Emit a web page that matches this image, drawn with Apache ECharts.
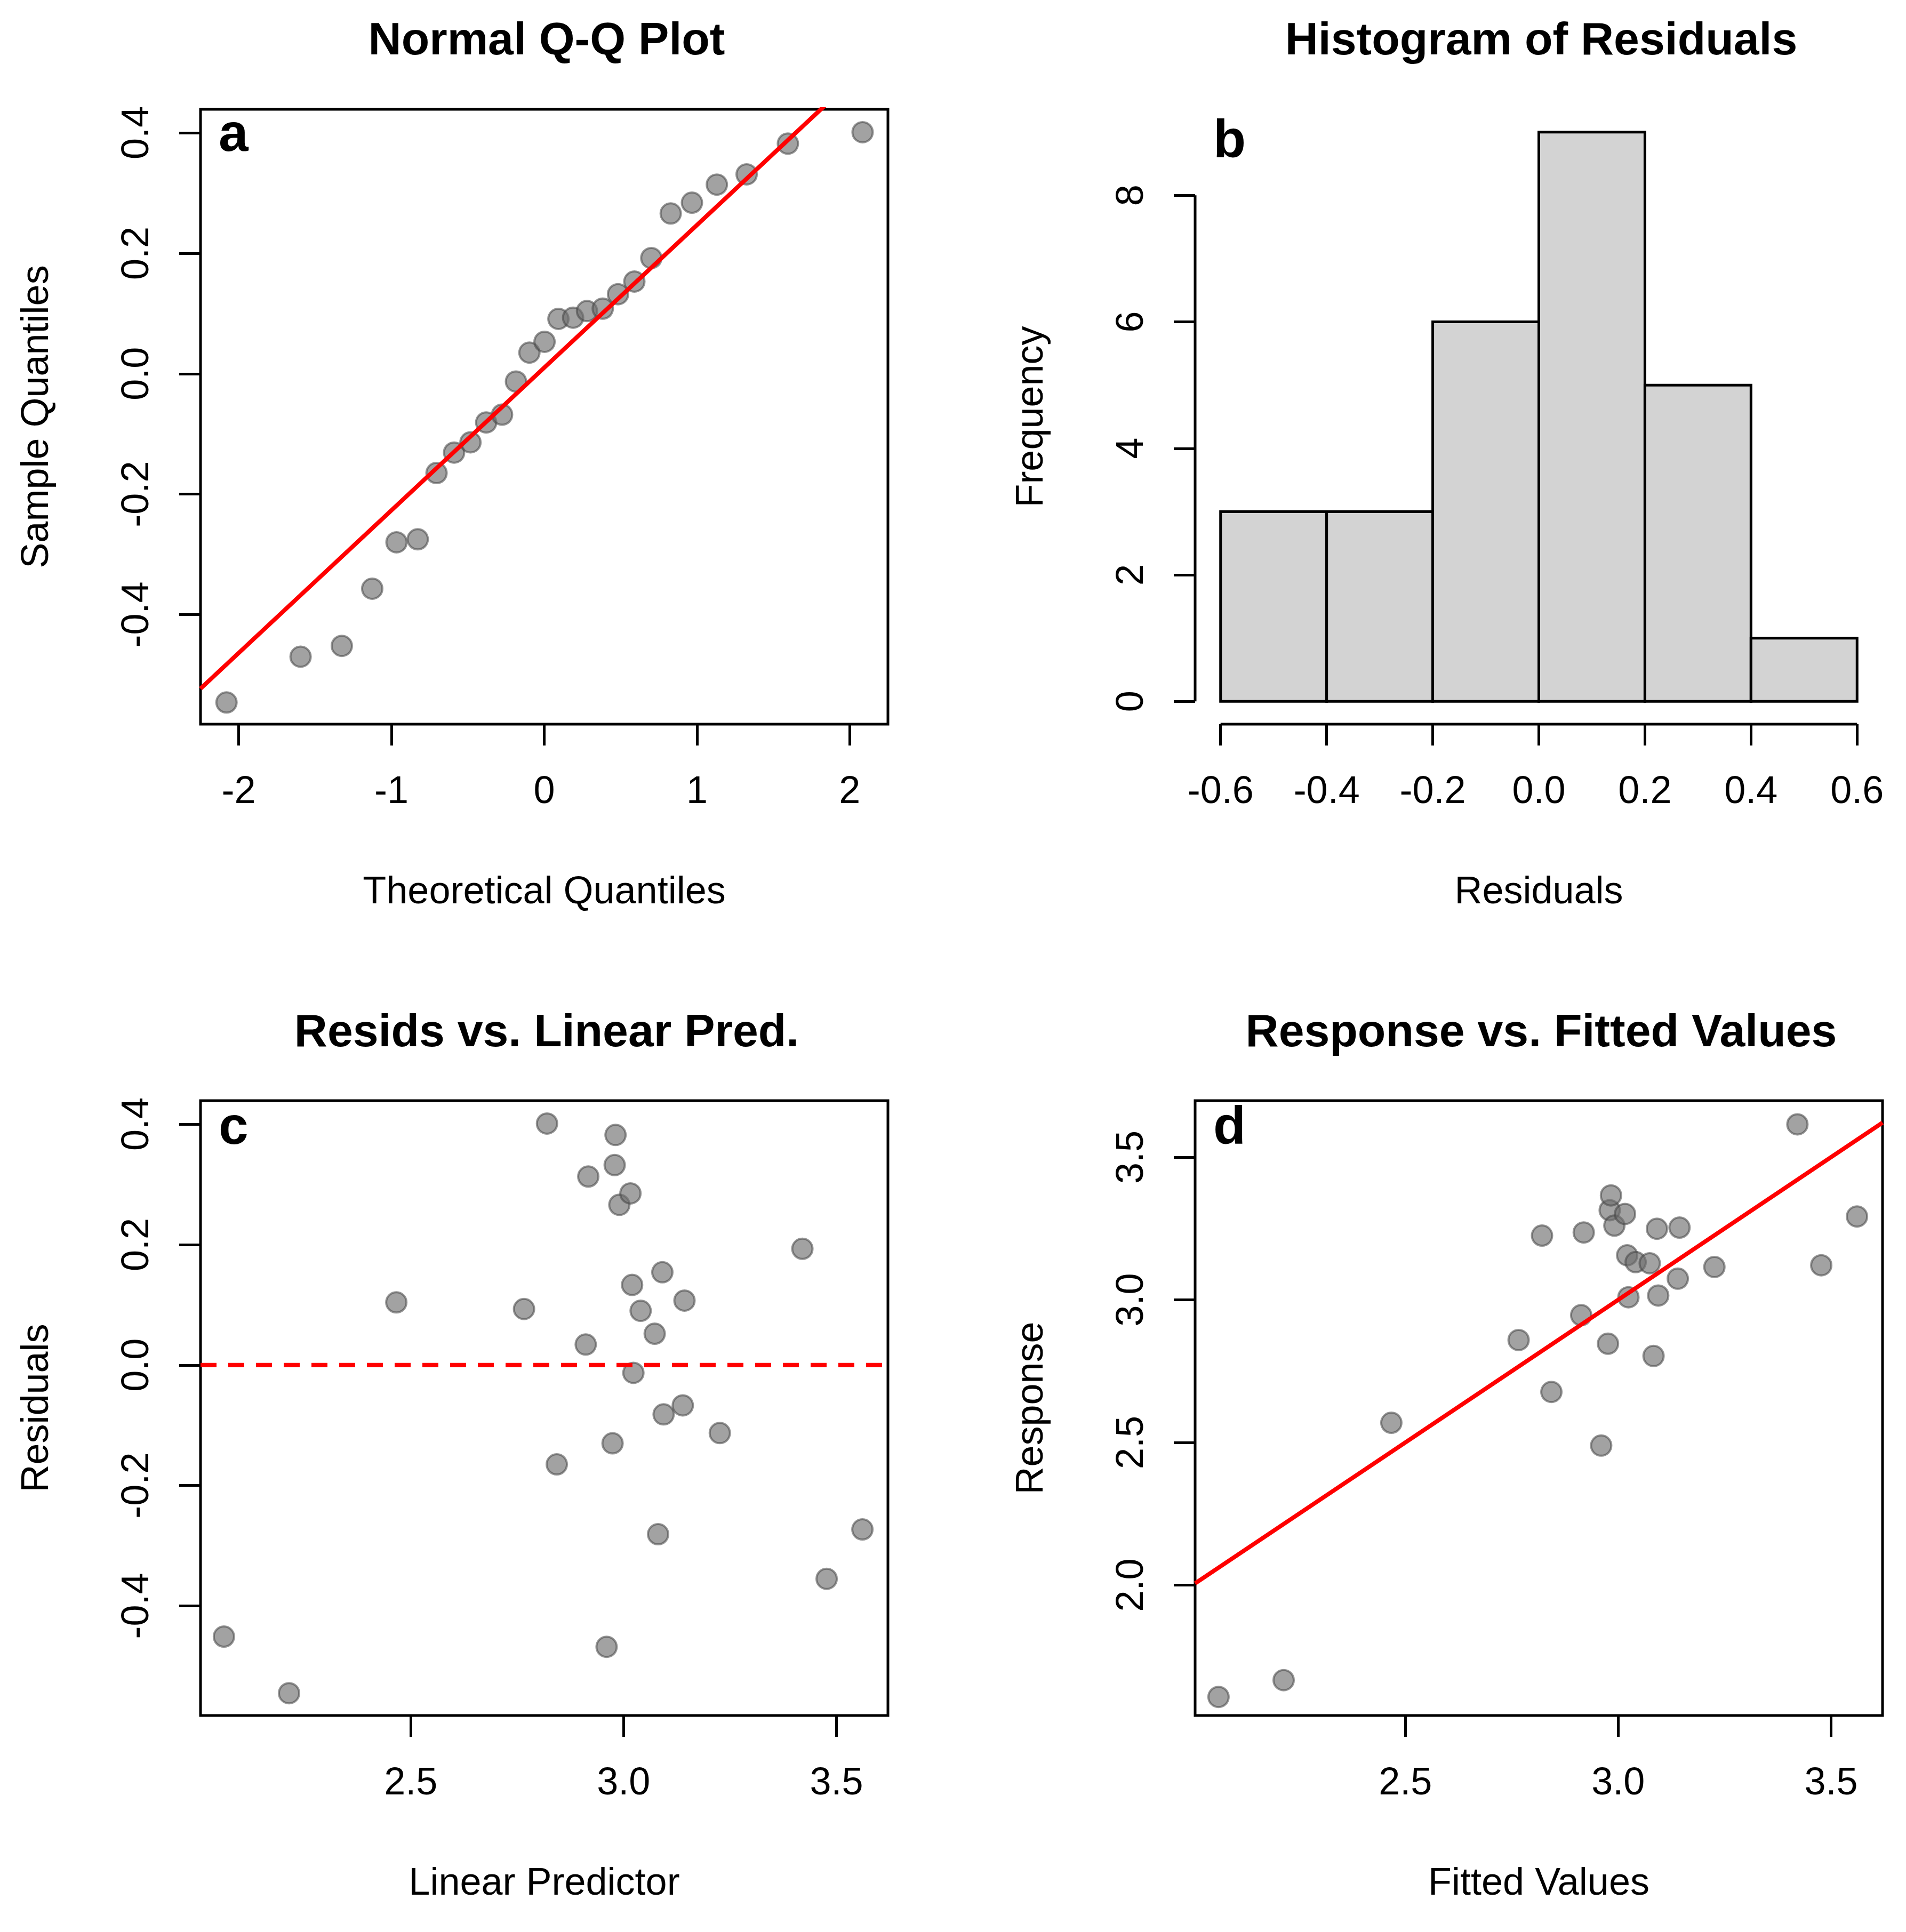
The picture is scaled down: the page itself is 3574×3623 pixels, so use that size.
<!DOCTYPE html>
<html>
<head>
    <meta charset="utf-8" />
    <script src="https://cdn.jsdelivr.net/npm/echarts@6.0.0/dist/echarts.min.js"></script>
    <style>
        html, body { margin: 0; background: #fff; }
        #chart { width: 3574px; height: 3623px; }
    </style>
</head>
<body>
    <div id="chart"></div>
    <script type="text/javascript">
        // panel a: normal Q-Q
        var qqTheoretical = [-2.08, -1.595, -1.325, -1.126, -0.967, -0.828, -0.705, -0.590, -0.483, -0.380, -0.276, -0.185, -0.097, 0.002, 0.093, 0.189, 0.280, 0.383, 0.483, 0.590, 0.701, 0.828, 0.967, 1.130, 1.325, 1.595, 2.084];
        var qqSample = [-0.546, -0.470, -0.452, -0.357, -0.280, -0.275, -0.165, -0.131, -0.114, -0.081, -0.068, -0.013, 0.035, 0.053, 0.091, 0.093, 0.104, 0.108, 0.132, 0.153, 0.192, 0.266, 0.284, 0.314, 0.331, 0.382, 0.401];
        var qqLineX = [-2.25, 2.25];
        var qqLineY = [-0.523, 0.543];

        // panel b: histogram
        var histBreaks = [-0.6, -0.4, -0.2, 0.0, 0.2, 0.4, 0.6];
        var histCounts = [3, 3, 6, 9, 5, 1];

        // panel c: residuals vs linear predictor
        var linPred = [2.061, 2.214, 2.466, 2.766, 2.820, 2.843, 2.911, 2.917, 2.960, 2.974, 2.979, 2.981, 2.990, 3.016, 3.020, 3.023, 3.040, 3.073, 3.081, 3.091, 3.094, 3.139, 3.143, 3.226, 3.420, 3.477, 3.561];
        var resids = [-0.451, -0.545, 0.104, 0.093, 0.401, -0.165, 0.034, 0.313, -0.468, -0.130, 0.332, 0.382, 0.266, 0.285, 0.133, -0.013, 0.090, 0.052, -0.281, 0.154, -0.082, -0.067, 0.107, -0.113, 0.193, -0.355, -0.273];

        // panel d: response vs fitted
        var fitted = [2.061, 2.214, 2.467, 2.766, 2.821, 2.843, 2.913, 2.919, 2.960, 2.976, 2.980, 2.983, 2.991, 3.016, 3.024, 3.021, 3.041, 3.074, 3.083, 3.091, 3.094, 3.140, 3.144, 3.226, 3.421, 3.477, 3.561];
        var response = [1.608, 1.667, 2.569, 2.859, 3.225, 2.677, 2.946, 3.236, 2.489, 2.846, 3.314, 3.366, 3.260, 3.301, 3.009, 3.156, 3.132, 3.128, 2.803, 3.249, 3.015, 3.074, 3.253, 3.115, 3.615, 3.121, 3.292];

        var qqTicksX = [-2, -1, 0, 1, 2];
        var residTicks = [-0.4, -0.2, 0.0, 0.2, 0.4];
        var histTicksX = [-0.6, -0.4, -0.2, 0.0, 0.2, 0.4, 0.6];
        var histTicksY = [0, 2, 4, 6, 8];
        var predTicks = [2.5, 3.0, 3.5];
        var respTicks = [2.0, 2.5, 3.0, 3.5];

        var FONT = 'Liberation Sans, Arial, sans-serif';
        var grids = [
            { left: 376, top: 205, width: 1289, height: 1153 },
            { left: 2241, top: 205, width: 1289, height: 1153 },
            { left: 376, top: 2064, width: 1289, height: 1153 },
            { left: 2241, top: 2064, width: 1289, height: 1153 }
        ];
        grids.forEach(function (g, i) {
            g.show = i !== 1;
            g.borderColor = '#000';
            g.borderWidth = 5;
            g.backgroundColor = 'transparent';
        });

        function fmt(d) {
            return function (v) { return v.toFixed(d); };
        }
        function axis(gridIndex, min, max, ticks, name, isY, digits) {
            return {
                type: 'value', gridIndex: gridIndex, min: min, max: max,
                name: name, nameLocation: 'middle', nameGap: isY ? 270 : 280,
                nameTextStyle: { fontSize: 72, fontFamily: FONT, color: '#000' },
                splitLine: { show: false },
                axisLine: { show: false, onZero: false },
                axisTick: { show: true, customValues: ticks, length: 40, lineStyle: { color: '#000', width: 5 } },
                axisLabel: {
                    customValues: ticks, fontSize: 72, fontFamily: FONT, color: '#000',
                    margin: isY ? 82 : 92, rotate: isY ? 90 : 0,
                    formatter: fmt(digits)
                }
            };
        }
        function zip(a, b) { return a.map(function (v, i) { return [v, b[i]]; }); }
        var pointStyle = { color: 'rgba(110,110,110,0.8)', borderColor: 'rgba(70,70,70,0.7)', borderWidth: 4 };
        function scatter(idx, data) {
            return { type: 'scatter', xAxisIndex: idx, yAxisIndex: idx, data: data, symbolSize: 38, itemStyle: pointStyle, silent: true };
        }
        function redLine(idx, data, dashed) {
            return {
                type: 'line', xAxisIndex: idx, yAxisIndex: idx, data: data, symbol: 'none', clip: true, silent: true,
                lineStyle: { color: '#ff0000', width: 8, type: dashed ? [30, 22] : 'solid' }
            };
        }
        function blackLine(idx, data) {
            return {
                type: 'line', xAxisIndex: idx, yAxisIndex: idx, data: data, symbol: 'none', clip: false, silent: true,
                lineStyle: { color: '#000', width: 5 }
            };
        }

        var histData = histCounts.map(function (c, i) { return [histBreaks[i], histBreaks[i + 1], c]; });

        var titleStyle = { fontSize: 86, fontWeight: 'bold', fontFamily: FONT, color: '#000' };
        var letterStyle = { fontSize: 100, fontWeight: 'bold', fontFamily: FONT, color: '#000' };
        var titles = [
            ['Normal Q-Q Plot', 1020, 30], ['Histogram of Residuals', 2885, 30],
            ['Resids vs. Linear Pred.', 1020, 1890], ['Response vs. Fitted Values', 2885, 1890]
        ].map(function (t) {
            return { text: t[0], left: t[1], top: t[2], textAlign: 'center', textStyle: titleStyle };
        });
        [['a', 405, 200], ['b', 2270, 212], ['c', 405, 2062], ['d', 2270, 2062]].forEach(function (t) {
            titles.push({ text: t[0], left: t[1], top: t[2], textStyle: letterStyle });
        });

        var chart = echarts.init(document.getElementById('chart'), null, { renderer: 'canvas' });
        chart.setOption({
            backgroundColor: '#fff',
            animation: false,
            title: titles,
            grid: grids,
            xAxis: [
                axis(0, -2.25, 2.25, qqTicksX, 'Theoretical Quantiles', false, 0),
                axis(1, -0.648, 0.648, histTicksX, 'Residuals', false, 1),
                axis(2, 2.006, 3.621, predTicks, 'Linear Predictor', false, 1),
                axis(3, 2.006, 3.621, predTicks, 'Fitted Values', false, 1)
            ],
            yAxis: [
                axis(0, -0.582, 0.439, residTicks, 'Sample Quantiles', true, 1),
                axis(1, -0.36, 9.36, histTicksY, 'Frequency', true, 0),
                axis(2, -0.582, 0.439, residTicks, 'Residuals', true, 1),
                axis(3, 1.543, 3.698, respTicks, 'Response', true, 1)
            ],
            series: [
                redLine(0, zip(qqLineX, qqLineY), false),
                scatter(0, zip(qqTheoretical, qqSample)),
                {
                    type: 'custom', xAxisIndex: 1, yAxisIndex: 1, data: histData, silent: true,
                    renderItem: function (params, api) {
                        var p0 = api.coord([api.value(0), api.value(2)]);
                        var p1 = api.coord([api.value(1), 0]);
                        return {
                            type: 'rect',
                            shape: { x: p0[0], y: p0[1], width: p1[0] - p0[0], height: p1[1] - p0[1] },
                            style: { fill: '#d3d3d3', stroke: '#000', lineWidth: 5 }
                        };
                    }
                },
                blackLine(1, [[histBreaks[0], -0.36], [histBreaks[histBreaks.length - 1], -0.36]]),
                blackLine(1, [[-0.648, histTicksY[0]], [-0.648, histTicksY[histTicksY.length - 1]]]),
                redLine(2, [[2.006, 0], [3.621, 0]], true),
                scatter(2, zip(linPred, resids)),
                redLine(3, [[2.006, 2.006], [3.621, 3.621]], false),
                scatter(3, zip(fitted, response))
            ]
        });
    </script>
</body>
</html>
